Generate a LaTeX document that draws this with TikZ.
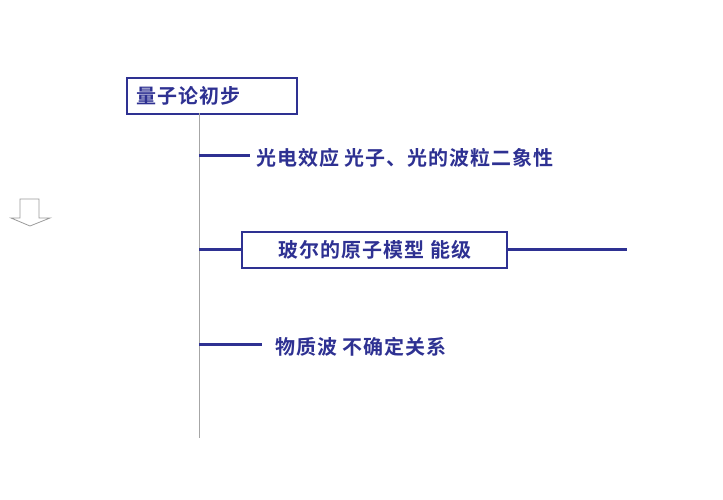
\documentclass[tikz,border=0pt]{standalone}
\usepackage{fontspec}
\newfontfamily\cjk[BoldFont={Noto Sans CJK SC Bold},LetterSpace=5]{Noto Sans CJK SC}
\definecolor{navy}{HTML}{2E3192}
\begin{document}
\begin{tikzpicture}[x=1pt,y=-1pt,
  box/.style={draw=navy,line width=2.2pt,inner sep=0pt,anchor=north west},
  txt/.style={font=\cjk\bfseries\fontsize{20}{22}\selectfont,text=navy,inner sep=0pt},
  br/.style={navy,line width=3pt}]
\useasboundingbox (0,0) rectangle (723,500);
\node[box,minimum width=170pt,minimum height=36pt] (t) at (126,77) {};
\node[txt,anchor=west] (tt) at (136,96) {量子论初步};
\coordinate (top) at (199,113);
\coordinate (bot) at (199,438);
\draw[gray!70,line width=1pt] (top) -- (bot);
\coordinate (a) at (199,156); \coordinate (a2) at (250,156);
\draw[br] (a) -- (a2);
\node[txt,anchor=west] (n1) at (256,158) {光电效应 光子、光的波粒二象性};
\node[box,minimum width=265pt,minimum height=36pt] (b) at (241,231) {};
\node[txt] (bt) at (375,250) {玻尔的原子模型\ 能级};
\coordinate (b0) at (199,249); \coordinate (b1) at (241,249);
\coordinate (b2) at (506,249); \coordinate (b3) at (627,249);
\draw[br] (b0) -- (b1);
\draw[br] (b2) -- (b3);
\coordinate (c) at (199,344); \coordinate (c2) at (262,344);
\draw[br] (c) -- (c2);
\node[txt,anchor=west] (n3) at (275,347) {物质波\ 不确定关系};
\draw[gray!80,line width=0.8pt] (20,199) -- (39,199) -- (39,218) -- (50,218) -- (30,226) -- (11,218) -- (20,218) -- cycle;
\end{tikzpicture}
\end{document}
